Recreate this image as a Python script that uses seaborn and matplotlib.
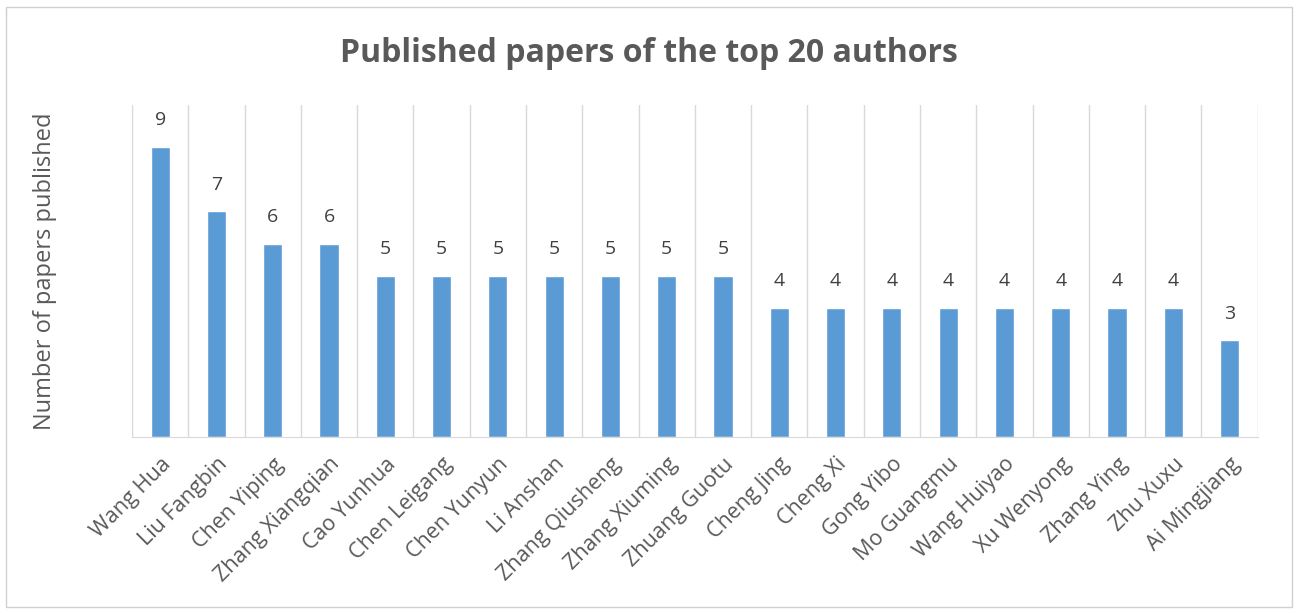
import matplotlib
matplotlib.use("Agg")
import matplotlib.pyplot as plt
import seaborn as sns
import pandas as pd
import numpy as np
from matplotlib.patches import Rectangle

authors = ["Wang Hua", "Liu Fangbin", "Chen Yiping", "Zhang Xiangqian", "Cao Yunhua",
           "Chen Leigang", "Chen Yunyun", "Li Anshan", "Zhang Qiusheng", "Zhang Xiuming",
           "Zhuang Guotu", "Cheng Jing", "Cheng Xi", "Gong Yibo", "Mo Guangmu",
           "Wang Huiyao", "Xu Wenyong", "Zhang Ying", "Zhu Xuxu", "Ai Mingjiang"]
papers = [9, 7, 6, 6, 5, 5, 5, 5, 5, 5, 5, 4, 4, 4, 4, 4, 4, 4, 4, 3]

df = pd.DataFrame({"author": authors, "papers": papers})

sns.set_style("white")
plt.rcParams['font.family'] = ['Open Sans', 'DejaVu Sans']

fig = plt.figure(figsize=(12.98, 6.13), dpi=100)
ax = fig.add_axes([0.1017, 0.287, 0.8673, 0.542])

sns.barplot(data=df, x="author", y="papers", color="#5B9BD5", width=0.34,
            saturation=1, ax=ax)

ax.set_ylim(0, 10.3)
ax.set_xlim(-0.5, len(authors) - 0.5)

for i, v in enumerate(papers):
    ax.text(i, v + 0.55, str(v), ha="center", va="bottom", fontsize=14, color="#404040")

# vertical gridlines at category boundaries
ax.set_xticks(np.arange(-0.5, len(authors), 1.0), minor=True)
ax.grid(True, which="minor", axis="x", color="#D9D9D9", linewidth=1)
ax.tick_params(axis="x", which="minor", length=8, color="#D9D9D9", width=1, direction="out")
ax.tick_params(axis="x", which="major", length=0, pad=12)
ax.set_xticks(range(len(authors)))
ax.set_xticklabels(authors, rotation=45, ha="right", rotation_mode="anchor",
                   fontsize=15.5, color="#595959")
ax.set_yticks([])
for s in ["left", "right", "top"]:
    ax.spines[s].set_visible(False)
ax.spines["bottom"].set_color("#D9D9D9")
ax.set_xlabel("")
ax.set_ylabel("Number of papers published", fontsize=17, color="#595959")
ax.yaxis.set_label_coords(-0.067, 0.5)

fig.text(0.5, 0.912, "Published papers of the top 20 authors", ha="center", va="center",
         fontsize=23, fontweight="bold", color="#595959")

fig.patches.append(Rectangle((0.005, 0.01), 0.99, 0.978, transform=fig.transFigure,
                             fill=False, edgecolor="#D0D0D0", linewidth=1))

fig.savefig("out.png", dpi=100)
